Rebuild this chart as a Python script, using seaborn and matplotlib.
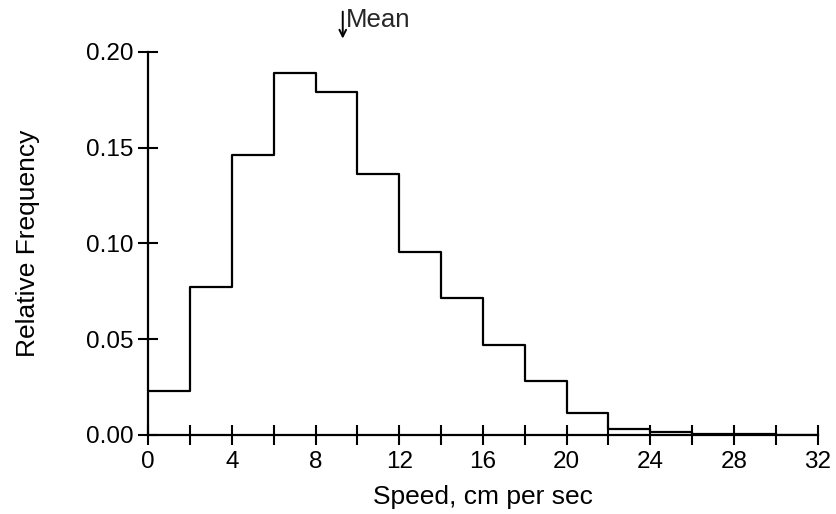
import numpy as np
import pandas as pd
import seaborn as sns
import matplotlib.pyplot as plt

# =========================================================
# 1. DATA
# =========================================================
bin_edges = [0, 2, 4, 6, 8, 10, 12, 14, 16, 18, 20, 22, 24, 26, 28, 30, 32]
rel_freq = [0.023, 0.077, 0.146, 0.189, 0.179, 0.136, 0.0955, 0.0715,
            0.047, 0.028, 0.0115, 0.0028, 0.0014, 0.0006, 0.0003, 0.0]
mean_speed = 9.3

df = pd.DataFrame({
    'speed': [(a + b) / 2 for a, b in zip(bin_edges[:-1], bin_edges[1:])],
    'freq': rel_freq,
})

# =========================================================
# 2. PLOT
# =========================================================
sns.set_theme(style="ticks")
plt.rcParams['font.family'] = ['Liberation Sans', 'DejaVu Sans']

fig = plt.figure(figsize=(8.37, 5.14), dpi=100)
ax = fig.add_axes([0.177, 0.154, 0.8, 0.745])

sns.histplot(data=df, x='speed', weights='freq', bins=bin_edges,
             element='step', fill=False, color='black', linewidth=1.6, ax=ax)

ax.set_xlim(0, 32)
ax.set_ylim(0, 0.2)

ax.set_xticks(np.arange(0, 33, 2))
ax.set_xticklabels([str(v) if v % 4 == 0 else '' for v in range(0, 33, 2)])
ax.set_yticks([0.0, 0.05, 0.10, 0.15, 0.20])
ax.set_yticklabels(['0.00', '0.05', '0.10', '0.15', '0.20'])

ax.tick_params(direction='inout', length=15, width=1.5, labelsize=17.5,
               color='black', labelcolor='black')
ax.tick_params(axis='x', pad=4)
ax.tick_params(axis='y', pad=3)
for side in ['top', 'right']:
    ax.spines[side].set_visible(False)
for side in ['left', 'bottom']:
    ax.spines[side].set_linewidth(1.6)
    ax.spines[side].set_color('black')

ax.set_xlabel('Speed, cm per sec', fontsize=19, color='black', labelpad=9)
ax.set_ylabel('Relative Frequency', fontsize=19, color='black', labelpad=33)

# mean marker above the plot
ax.annotate('', xy=(mean_speed, 0.2055), xytext=(mean_speed, 0.2225),
            arrowprops=dict(arrowstyle='->', color='black', lw=1.4),
            annotation_clip=False)
ax.text(mean_speed + 0.15, 0.2165, 'Mean', fontsize=18.5, va='center',
        ha='left', clip_on=False)

fig.savefig('out.png', dpi=100)
